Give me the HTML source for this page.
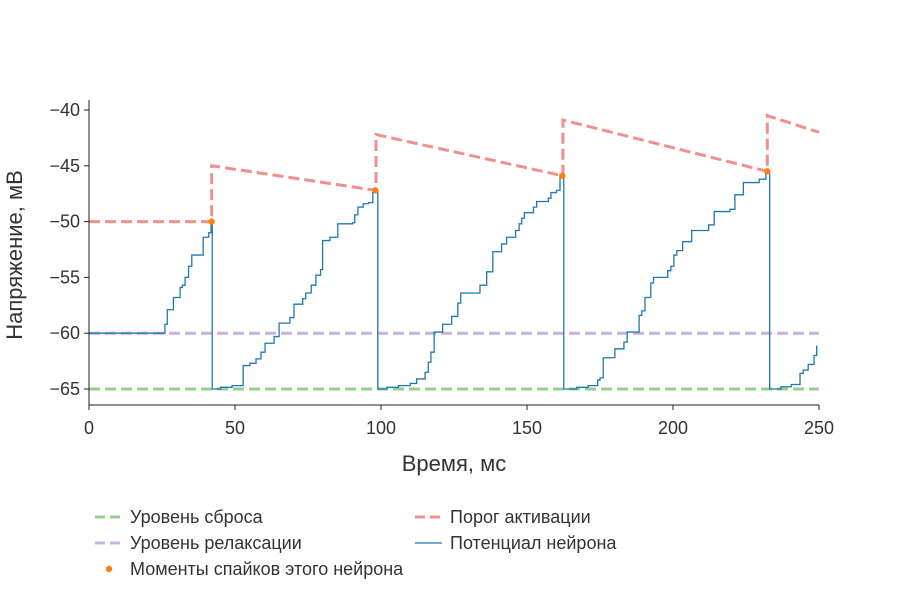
<!DOCTYPE html>
<html><head><meta charset="utf-8"><style>
body{margin:0;background:#fff;}
svg{font-family:"Liberation Sans",sans-serif;}
</style></head><body>
<svg id="chart" width="900" height="600"></svg>
<script>
// ---- data ----
const traceT = [0,26.0,26.8,28.9,31.2,32.0,32.9,34.1,35.2,39.1,41.0,41.8,42.2,
  45,49,52.8,55.1,57.2,58.9,60.3,63.4,65.1,68.8,70.2,73.2,74.2,76.1,77.7,79.3,80.0,82.5,85.2,90.3,91.0,92.1,93.9,95.7,97.2,98.1,98.9,
  102,106,110,112.2,115.1,116.2,117.1,118.2,121.1,124.2,126.3,127.3,133.9,136.2,138.3,141.3,143.0,146.1,147.3,148.2,149.1,152.2,153.3,157.3,158.2,160.1,161.3,162.6,
  167,171,174.2,175.0,176.1,180.1,183.2,184.3,188.4,189.3,190.4,192.4,193.3,198.2,199.3,200.3,201.3,203.3,206.4,212.2,214.1,219.5,221.2,224.1,229.5,231.8,233.1,
  237,240.5,243.5,244.6,246.3,248.3,249.2];
const traceV = [-60,-59.2,-57.9,-56.8,-55.9,-55.7,-55.0,-54.0,-53.0,-51.4,-51.0,-50.0,-65,
  -64.85,-64.7,-62.9,-62.7,-62.3,-61.7,-60.9,-60.3,-59.1,-58.6,-57.4,-56.9,-56.4,-55.7,-54.8,-54.3,-51.7,-51.4,-50.2,-50.1,-49.4,-48.7,-48.4,-48.3,-47.4,-47.2,-65,
  -64.85,-64.7,-64.5,-64.1,-63.5,-62.6,-61.7,-59.9,-59.2,-58.5,-57.3,-56.4,-55.7,-54.5,-52.7,-52.0,-51.4,-50.8,-50.2,-49.7,-49.2,-48.7,-48.2,-47.9,-47.4,-47.2,-45.9,-65,
  -64.85,-64.7,-64.2,-64.0,-62.2,-61.4,-60.8,-59.9,-58.4,-58.0,-56.8,-55.5,-55.0,-54.4,-54.0,-53.0,-52.6,-51.8,-50.8,-50.3,-49.1,-48.9,-47.6,-46.5,-46.2,-45.5,-65,
  -64.8,-64.6,-63.6,-63.3,-62.8,-62.0,-61.1];
const threshT = [0,42,42,98.3,98.3,162.3,162.3,232.3,232.3,250];
const threshV = [-50,-50,-45,-47.2,-42.2,-45.9,-40.9,-45.5,-40.5,-42];
const spikeT = [42.0,98.1,162.1,232.3];
const spikeV = [-50.0,-47.2,-45.9,-45.5];
const resetLevel = -65, restLevel = -60;
const xTicks = [0,50,100,150,200,250];
const yTicks = [-40,-45,-50,-55,-60,-65];

const NS="http://www.w3.org/2000/svg";
const svg=document.getElementById('chart');
const X=t=>89+t*(730/250);
const Y=v=>110+(-40-v)*(279/25);
function mk(tag,attrs,parent){const e=document.createElementNS(NS,tag);for(const k in attrs)e.setAttribute(k,attrs[k]);(parent||svg).appendChild(e);return e;}

let e=mk('line',{x1:X(0),x2:X(250),y1:Y(resetLevel),y2:Y(resetLevel),stroke:'#95cf8f','stroke-width':3,'stroke-dasharray':'11,5'});

e=mk('line',{x1:X(0),x2:X(250),y1:Y(restLevel),y2:Y(restLevel),stroke:'#c9b3de','stroke-width':3,'stroke-dasharray':'11,5'});

let d='';threshT.forEach((t,i)=>{d+=(i?'L':'M')+X(t)+','+Y(threshV[i]);});
e=mk('path',{d:d,fill:'none',stroke:'#f0908c','stroke-width':3,'stroke-dasharray':'11,5'});

d='M'+X(traceT[0])+','+Y(traceV[0]);
for(let i=1;i<traceT.length;i++){d+='L'+X(traceT[i])+','+Y(traceV[i-1])+'L'+X(traceT[i])+','+Y(traceV[i]);}
e=mk('path',{d:d,fill:'none',stroke:'#1f77b4','stroke-width':1.3});

spikeT.forEach((t,i)=>{const c=mk('circle',{cx:X(t),cy:Y(spikeV[i]),r:3.2,fill:'#ff7f0e'});
});
e=mk('line',{x1:89,x2:89,y1:100,y2:405,stroke:'#222','stroke-width':1});

e=mk('line',{x1:89,x2:819,y1:405,y2:405,stroke:'#222','stroke-width':1});

yTicks.forEach(v=>{mk('line',{x1:84,x2:89,y1:Y(v),y2:Y(v),stroke:'#222'});
const t=mk('text',{x:80,y:Y(v)+6,'text-anchor':'end','font-size':18,fill:'#333'});t.textContent='\u2212'+Math.abs(v);
});
xTicks.forEach(v=>{mk('line',{x1:X(v),x2:X(v),y1:405,y2:410,stroke:'#222'});
const t=mk('text',{x:X(v),y:434,'text-anchor':'middle','font-size':18,fill:'#333'});t.textContent=v;
});
e=mk('text',{x:454,y:471,'text-anchor':'middle','font-size':22,fill:'#333'});e.textContent='Время, мс';

e=mk('text',{x:0,y:0,'text-anchor':'middle','font-size':22,fill:'#333',transform:'translate(22,255) rotate(-90)'});e.textContent='Напряжение, мВ';

function leg(name,x,y,label,kind,color){
 const g=mk('g',{});
 if(kind==='dash')mk('line',{x1:x,x2:x+27,y1:y,y2:y,stroke:color,'stroke-width':3,'stroke-dasharray':'10,5'},g);
 else if(kind==='line')mk('line',{x1:x,x2:x+27,y1:y,y2:y,stroke:color,'stroke-width':1.3},g);
 else mk('circle',{cx:x+14,cy:y,r:3.2,fill:color},g);
 const t=mk('text',{x:x+35,y:y+6,'font-size':18,fill:'#333'},g);t.textContent=label;}
leg('legend-reset',95,517,'Уровень сброса','dash','#95cf8f');
leg('legend-rest',95,543,'Уровень релаксации','dash','#c9b3de');
leg('legend-spikes',95,569,'Моменты спайков этого нейрона','dot','#ff7f0e');
leg('legend-threshold',415,517,'Порог активации','dash','#f0908c');
leg('legend-potential',415,543,'Потенциал нейрона','line','#1f77b4');
</script>
</body></html>
